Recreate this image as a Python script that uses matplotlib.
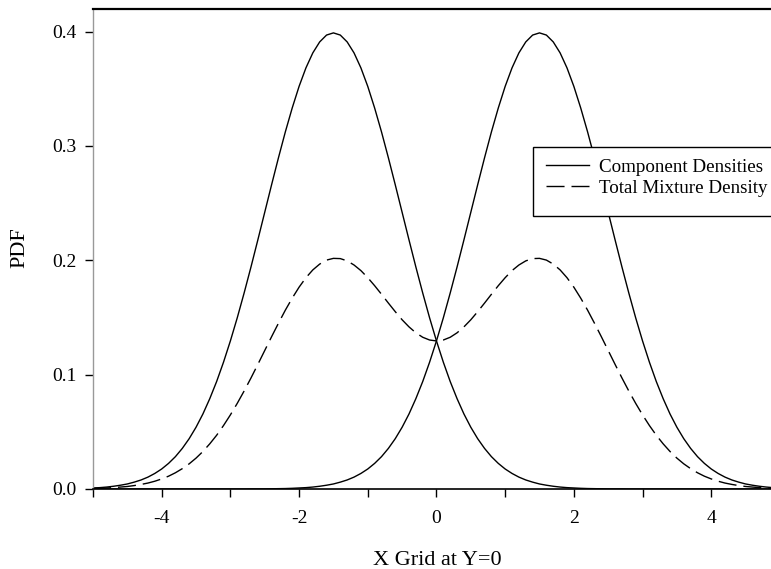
import numpy as np
import matplotlib.pyplot as plt
from matplotlib.patches import Rectangle

plt.rcParams['font.family'] = ['Liberation Serif', 'DejaVu Serif']

# x grid, -5 .. 5 in steps of 0.1
x_grid = np.round(np.arange(-50, 51) / 10, 1)

# component centred at -1.5
comp_left = [
    0.0009, 0.0012, 0.0017, 0.0024, 0.0033, 0.0044, 0.0060, 0.0079, 0.0104, 0.0136,
    0.0175, 0.0224, 0.0283, 0.0355, 0.0440, 0.0540, 0.0656, 0.0790, 0.0940, 0.1109,
    0.1295, 0.1497, 0.1714, 0.1942, 0.2179, 0.2420, 0.2661, 0.2897, 0.3123, 0.3332,
    0.3521, 0.3683, 0.3814, 0.3910, 0.3970, 0.3989, 0.3970, 0.3910, 0.3814, 0.3683,
    0.3521, 0.3332, 0.3123, 0.2897, 0.2661, 0.2420, 0.2179, 0.1942, 0.1714, 0.1497,
    0.1295, 0.1109, 0.0940, 0.0790, 0.0656, 0.0540, 0.0440, 0.0355, 0.0283, 0.0224,
    0.0175, 0.0136, 0.0104, 0.0079, 0.0060, 0.0044, 0.0033, 0.0024, 0.0017, 0.0012,
    0.0009, 0.0006, 0.0004, 0.0003, 0.0002, 0.0001, 0.0001, 0.0001, 0.0, 0.0,
    0.0, 0.0, 0.0, 0.0, 0.0, 0.0, 0.0, 0.0, 0.0, 0.0,
    0.0, 0.0, 0.0, 0.0, 0.0, 0.0, 0.0, 0.0, 0.0, 0.0,
    0.0,
]

# component centred at +1.5
comp_right = [
    0.0,
    0.0, 0.0, 0.0, 0.0, 0.0, 0.0, 0.0, 0.0, 0.0, 0.0,
    0.0, 0.0, 0.0, 0.0, 0.0, 0.0, 0.0, 0.0, 0.0, 0.0,
    0.0, 0.0, 0.0001, 0.0001, 0.0001, 0.0002, 0.0003, 0.0004, 0.0006, 0.0009,
    0.0012, 0.0017, 0.0024, 0.0033, 0.0044, 0.0060, 0.0079, 0.0104, 0.0136, 0.0175,
    0.0224, 0.0283, 0.0355, 0.0440, 0.0540, 0.0656, 0.0790, 0.0940, 0.1109, 0.1295,
    0.1497, 0.1714, 0.1942, 0.2179, 0.2420, 0.2661, 0.2897, 0.3123, 0.3332, 0.3521,
    0.3683, 0.3814, 0.3910, 0.3970, 0.3989, 0.3970, 0.3910, 0.3814, 0.3683, 0.3521,
    0.3332, 0.3123, 0.2897, 0.2661, 0.2420, 0.2179, 0.1942, 0.1714, 0.1497, 0.1295,
    0.1109, 0.0940, 0.0790, 0.0656, 0.0540, 0.0440, 0.0355, 0.0283, 0.0224, 0.0175,
    0.0136, 0.0104, 0.0079, 0.0060, 0.0044, 0.0033, 0.0024, 0.0017, 0.0012, 0.0009,
]

# total mixture density
mixture = [
    0.0005, 0.0006, 0.0009, 0.0012, 0.0017, 0.0022, 0.0030, 0.0040, 0.0052, 0.0068,
    0.0088, 0.0112, 0.0142, 0.0178, 0.0220, 0.0270, 0.0328, 0.0395, 0.0470, 0.0555,
    0.0648, 0.0749, 0.0857, 0.0971, 0.1090, 0.1211, 0.1332, 0.1450, 0.1564, 0.1669,
    0.1765, 0.1848, 0.1916, 0.1967, 0.2002, 0.2017, 0.2015, 0.1995, 0.1959, 0.1910,
    0.1848, 0.1778, 0.1703, 0.1626, 0.1551, 0.1480, 0.1418, 0.1366, 0.1327, 0.1303,
    0.1295,
    0.1303, 0.1327, 0.1366, 0.1418, 0.1480, 0.1551, 0.1626, 0.1703, 0.1778, 0.1848,
    0.1910, 0.1959, 0.1995, 0.2015, 0.2017, 0.2002, 0.1967, 0.1916, 0.1848, 0.1765,
    0.1669, 0.1564, 0.1450, 0.1332, 0.1211, 0.1090, 0.0971, 0.0857, 0.0749, 0.0648,
    0.0555, 0.0470, 0.0395, 0.0328, 0.0270, 0.0220, 0.0178, 0.0142, 0.0112, 0.0088,
    0.0068, 0.0052, 0.0040, 0.0030, 0.0022, 0.0017, 0.0012, 0.0009, 0.0006, 0.0005,
]

y_ticks = [0.0, 0.1, 0.2, 0.3, 0.4]
x_major = [-4, -2, 0, 2, 4]
x_minor = [-5, -3, -1, 1, 3, 5]

# %%
fig = plt.figure(figsize=(7.71, 5.69), dpi=100)
ax = fig.add_axes([0.1206, 0.1406, 0.891, 0.8436])

ax.plot(x_grid, comp_left, color='black', lw=1.0, label='Component Densities')
ax.plot(x_grid, comp_right, color='black', lw=1.0)
ax.plot(x_grid, mixture, color='black', lw=1.0, dashes=(13, 5),
        label='Total Mixture Density')

ax.set_xlim(-5, 5)
ax.set_ylim(0, 0.4198)

ax.set_yticks(y_ticks)
ax.set_yticklabels(['{:.1f}'.format(v) for v in y_ticks])
ax.set_xticks(x_major)
ax.set_xticklabels([str(v) for v in x_major])
ax.set_xticks(x_minor, minor=True)
ax.tick_params(axis='both', which='both', direction='out', labelsize=14,
               length=6, width=1.0, color='black')
ax.tick_params(axis='y', pad=6)
ax.tick_params(axis='x', which='both', pad=9)

ax.spines['right'].set_visible(False)
ax.spines['top'].set_linewidth(1.6)
ax.spines['left'].set_color('#999999')
ax.spines['left'].set_linewidth(1.0)
ax.spines['bottom'].set_linewidth(1.2)

fig.text(437 / 771, 1 - 565 / 569, 'X Grid at Y=0', fontsize=16,
         ha='center', va='baseline')
fig.text(19.5 / 771, 1 - 248 / 569, 'PDF', fontsize=16, rotation=90,
         ha='center', va='center')

# legend box (taller at the bottom than the entries need)
box = Rectangle((0.6405, 0.56875), 0.5, 0.14375, transform=ax.transAxes,
                facecolor='white', edgecolor='black', lw=1.0, zorder=4,
                clip_on=False)
ax.add_patch(box)
leg = ax.legend(loc='upper left', bbox_to_anchor=(0.640, 0.7167),
                borderaxespad=0, fontsize=13.7, frameon=False,
                handlelength=2.26, handletextpad=0.53,
                borderpad=0.72, labelspacing=0.2)
leg.set_zorder(5)

fig.savefig('out.png', dpi=100)
